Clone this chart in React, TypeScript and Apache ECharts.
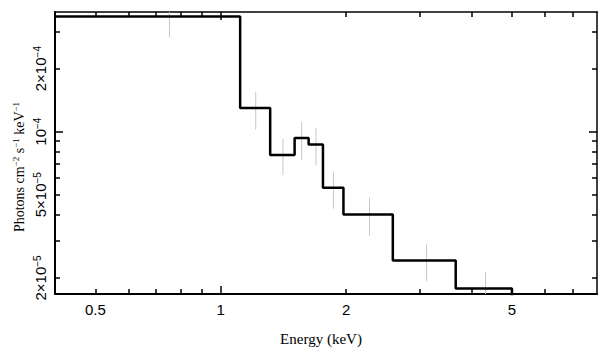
import React, { useEffect, useRef } from "react";
import * as echarts from "echarts";

// Model step: bin edges (keV) and model values (photons cm^-2 s^-1 keV^-1)
const binEdges = [0.4, 1.113, 1.314, 1.504, 1.625, 1.759, 1.97, 2.588, 3.664, 5.0];
const modelValues = [3.55e-4, 1.297e-4, 7.74e-5, 9.33e-5, 8.67e-5, 5.39e-5, 4.02e-5, 2.42e-5, 1.78e-5];
const modelTailValue = 1.2e-5; // drop after the last bin (below the visible range)

// Data error bars: energy, lower, upper
const errEnergy = [0.753, 1.213, 1.41, 1.563, 1.692, 1.864, 2.275, 3.119, 4.32];
const errLow = [2.83e-4, 1.022e-4, 6.19e-5, 7.35e-5, 6.91e-5, 4.28e-5, 3.19e-5, 1.93e-5, 1.5e-5];
const errHigh = [4.6e-4, 1.546e-4, 9.23e-5, 1.112e-4, 1.045e-4, 6.47e-5, 4.83e-5, 2.89e-5, 2.13e-5];

// Axes
const xMin = 0.4;
const xMax = 8;
const yMin = 1.676e-5;
const yMax = 3.73e-4;
const xLabelValues = [0.5, 1, 2, 5];
const xLabelTexts = ["0.5", "1", "2", "5"];
const xMinorTicks = [0.5, 0.6, 0.7, 0.8, 0.9, 2, 3, 4, 5, 6, 7];
const xMajorTicks = [1];
const yLabelValues = [2e-5, 5e-5, 1e-4, 2e-4];
const yLabelMantissa = ["2×10", "5×10", "10", "2×10"];
const yLabelExponent = ["−5", "−5", "−4", "−4"];
const yMinorTicks = [2e-5, 3e-5, 4e-5, 5e-5, 6e-5, 7e-5, 8e-5, 9e-5, 2e-4, 3e-4];
const yMajorTicks = [1e-4];

const xTitle = "Energy (keV)";
const yTitleRich = "{n|Photons cm}{s|−2}{n| s}{s|−1}{n| keV}{s|−1}";

function findIndex(values: number[], v: number): number {
  for (let i = 0; i < values.length; i++) {
    if (Math.abs(values[i] - v) <= values[i] * 1e-6) return i;
  }
  return -1;
}

export default function App() {
  const ref = useRef<HTMLDivElement>(null);

  useEffect(() => {
    if (!ref.current) return;
    const chart = echarts.init(ref.current, undefined, { renderer: "svg" });

    const stepData: [number, number][] = [];
    for (let i = 0; i < modelValues.length; i++) stepData.push([binEdges[i], modelValues[i]]);
    stepData.push([binEdges[binEdges.length - 1], modelValues[modelValues.length - 1]]);
    stepData.push([binEdges[binEdges.length - 1], modelTailValue]);

    const errData = errEnergy.map((e, i) => [e, errLow[i], errHigh[i]]);

    const lineCol = "#000";
    const sans = "Liberation Sans";
    const serif = "Liberation Serif";

    const baseX = (position: string, extra: any) => ({
      type: "log",
      logBase: 10,
      min: xMin,
      max: xMax,
      position,
      splitLine: { show: false },
      ...extra,
    });
    const baseY = (position: string, extra: any) => ({
      type: "log",
      logBase: 10,
      min: yMin,
      max: yMax,
      position,
      splitLine: { show: false },
      ...extra,
    });

    const option: any = {
      animation: false,
      backgroundColor: "#fff",
      grid: { left: 55, right: 11, top: 12, bottom: 63, containLabel: false },
      graphic: [
        {
          type: "text",
          x: 321,
          y: 339,
          style: { text: xTitle, fontFamily: serif, fontSize: 15, fill: "#000", align: "center", verticalAlign: "middle" },
        },
        {
          type: "text",
          x: 19,
          y: 167,
          rotation: Math.PI / 2,
          style: {
            text: yTitleRich,
            fill: "#000",
            align: "center",
            verticalAlign: "middle",
            rich: {
              n: { fontFamily: serif, fontSize: 14, lineHeight: 15, verticalAlign: "bottom", fill: "#000" },
              s: { fontFamily: serif, fontSize: 9, lineHeight: 15, verticalAlign: "top", fill: "#000" },
            },
          },
        },
      ],
      xAxis: [
        baseX("bottom", {
          axisLine: { show: true, lineStyle: { color: lineCol, width: 2 } },
          axisTick: { show: true, inside: true, length: 5, customValues: xMinorTicks, lineStyle: { color: lineCol, width: 1.5 } },
          axisLabel: {
            show: true,
            customValues: xLabelValues,
            formatter: (v: number) => {
              const i = findIndex(xLabelValues, v);
              return i >= 0 ? xLabelTexts[i] : "";
            },
            fontFamily: sans,
            fontSize: 15,
            color: "#000",
            margin: 8,
          },
        }),
        baseX("bottom", {
          axisLine: { show: false },
          axisTick: { show: true, inside: true, length: 8, customValues: xMajorTicks, lineStyle: { color: lineCol, width: 1.5 } },
          axisLabel: { show: false },
        }),
        baseX("top", {
          axisLine: { show: true, lineStyle: { color: lineCol, width: 1.5 } },
          axisTick: { show: true, inside: true, length: 5, customValues: xMinorTicks, lineStyle: { color: lineCol, width: 1.5 } },
          axisLabel: { show: false },
        }),
        baseX("top", {
          axisLine: { show: false },
          axisTick: { show: true, inside: true, length: 8, customValues: xMajorTicks, lineStyle: { color: lineCol, width: 1.5 } },
          axisLabel: { show: false },
        }),
      ],
      yAxis: [
        baseY("left", {
          axisLine: { show: true, lineStyle: { color: lineCol, width: 2 } },
          axisTick: { show: true, inside: true, length: 5, customValues: yMinorTicks, lineStyle: { color: lineCol, width: 1.5 } },
          axisLabel: {
            show: true,
            customValues: yLabelValues,
            formatter: (v: number) => {
              const i = findIndex(yLabelValues, v);
              return i >= 0 ? "{n|" + yLabelMantissa[i] + "}{s|" + yLabelExponent[i] + "}" : "";
            },
            rotate: 90,
            color: "#000",
            margin: 7,
            rich: {
              n: { fontFamily: sans, fontSize: 15, lineHeight: 16, verticalAlign: "bottom", color: "#000" },
              s: { fontFamily: sans, fontSize: 10, lineHeight: 16, verticalAlign: "top", color: "#000" },
            },
          },
        }),
        baseY("left", {
          axisLine: { show: false },
          axisTick: { show: true, inside: true, length: 8, customValues: yMajorTicks, lineStyle: { color: lineCol, width: 1.5 } },
          axisLabel: { show: false },
        }),
        baseY("right", {
          axisLine: { show: true, lineStyle: { color: lineCol, width: 1.5 } },
          axisTick: { show: true, inside: true, length: 5, customValues: yMinorTicks, lineStyle: { color: lineCol, width: 1.5 } },
          axisLabel: { show: false },
        }),
        baseY("right", {
          axisLine: { show: false },
          axisTick: { show: true, inside: true, length: 8, customValues: yMajorTicks, lineStyle: { color: lineCol, width: 1.5 } },
          axisLabel: { show: false },
        }),
      ],
      series: [
        {
          type: "custom",
          xAxisIndex: 0,
          yAxisIndex: 0,
          clip: true,
          z: 1,
          data: errData,
          renderItem: (params: any, api: any) => {
            const x = api.value(0);
            const p1 = api.coord([x, api.value(1)]);
            const p2 = api.coord([x, api.value(2)]);
            return {
              type: "line",
              shape: { x1: p1[0], y1: p1[1], x2: p2[0], y2: p2[1] },
              style: { stroke: "#c8c8c8", lineWidth: 1 },
            };
          },
        },
        {
          type: "line",
          xAxisIndex: 0,
          yAxisIndex: 0,
          step: "end",
          clip: true,
          z: 3,
          showSymbol: false,
          symbol: "none",
          data: stepData,
          lineStyle: { color: "#000", width: 2.5 },
        },
      ],
    };

    chart.setOption(option);
    return () => chart.dispose();
  }, []);

  return (
    <div
      ref={ref}
      style={{ position: "fixed", left: 0, top: 0, width: 608, height: 357, background: "#fff" }}
    />
  );
}
